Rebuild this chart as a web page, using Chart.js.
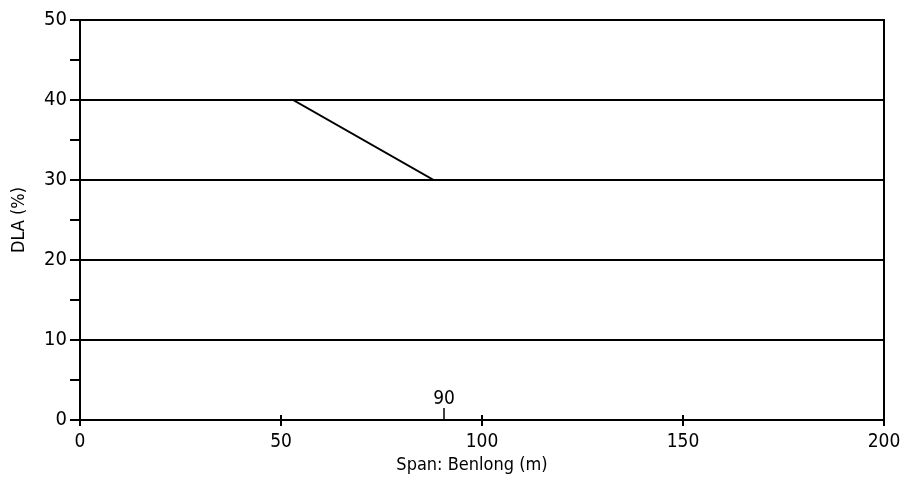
<!DOCTYPE html>
<html>
<head>
<meta charset="utf-8">
<script src="https://cdn.jsdelivr.net/npm/chart.js@4"></script>
<style>
html,body{margin:0;padding:0;background:#fff;}
#wrap{width:900px;height:477px;position:relative;}
</style>
</head>
<body>
<div id="wrap"><canvas id="c" width="900" height="477"></canvas></div>
<script>
// ---- data ----
const spanValues = [0, 53, 88, 200];      // Span: Benlong (m)
const dlaValues  = [40, 40, 30, 30];      // DLA (%)
const xTickValues = [0, 50, 100, 150, 200];
const yTickValues = [0, 10, 20, 30, 40, 50];
const yMinorTickValues = [5, 15, 25, 35, 45];
const markerValues = [90];
const markerLabels = ['90'];
const xTitle = 'Span: Benlong (m)';
const yTitle = 'DLA (%)';

const FONT = "'DejaVu Sans Condensed', 'Liberation Sans Narrow', 'Liberation Sans', sans-serif";

const points = spanValues.map((v, i) => ({x: v, y: dlaValues[i]}));

const extras = {
  id: 'extras',
  afterDatasetsDraw(chart) {
    const ctx = chart.ctx;
    const xs = chart.scales.x, ys = chart.scales.y;
    const base = ys.getPixelForValue(0);
    ctx.save();
    ctx.strokeStyle = '#000';
    ctx.lineWidth = 2;
    xTickValues.forEach(v => {
      if (v === 0 || v === 200) return;
      const px = Math.round(xs.getPixelForValue(v));
      ctx.beginPath();
      ctx.moveTo(px, base);
      ctx.lineTo(px, base - 5);
      ctx.stroke();
    });
    ctx.fillStyle = '#000';
    ctx.font = '19px ' + FONT;
    ctx.textAlign = 'center';
    ctx.textBaseline = 'middle';
    markerValues.forEach((v, i) => {
      const px = Math.round(xs.getPixelForValue(v)) + 2;
      ctx.lineWidth = 1.5;
      ctx.beginPath();
      ctx.moveTo(px, base);
      ctx.lineTo(px, base - 12);
      ctx.stroke();
      ctx.fillText(markerLabels[i], px, base - 21);
    });
    ctx.font = '18px ' + FONT;
    ctx.fillText(xTitle, xs.getPixelForValue(97.5), 465);
    ctx.restore();
  }
};

new Chart(document.getElementById('c'), {
  type: 'line',
  data: {
    datasets: [{
      data: points,
      borderColor: '#000',
      borderWidth: 2,
      pointRadius: 0,
      tension: 0,
      fill: false
    }]
  },
  options: {
    responsive: false,
    animation: false,
    layout: {padding: {top: 20, right: 0, left: 0, bottom: 0}},
    plugins: {legend: {display: false}, tooltip: {enabled: false}},
    scales: {
      x: {
        type: 'linear',
        min: 0, max: 200,
        afterBuildTicks: s => { s.ticks = xTickValues.map(v => ({value: v})); },
        afterFit: s => { s.height = 57; s.paddingRight = 16; s.paddingLeft = 0; },
        ticks: {color: '#000', font: {family: FONT, size: 19}, padding: 5, maxRotation: 0},
        grid: {drawOnChartArea: false, tickLength: 6, tickColor: '#000', lineWidth: 2},
        border: {display: true, color: '#000', width: 2}
      },
      y: {
        min: 0, max: 50,
        afterBuildTicks: s => {
          s.ticks = yTickValues.concat(yMinorTickValues).sort((a, b) => a - b).map(v => ({value: v}));
        },
        afterFit: s => { s.width = 80; },
        ticks: {
          color: '#000', font: {family: FONT, size: 20}, padding: 3,
          callback: v => yTickValues.includes(v) ? String(v) : ''
        },
        grid: {
          drawOnChartArea: true,
          tickLength: 10,
          tickColor: '#000',
          lineWidth: 2,
          color: c => (c.tick && yTickValues.includes(c.tick.value) && c.tick.value > 0) ? '#000' : 'rgba(0,0,0,0)'
        },
        border: {display: true, color: '#000', width: 2},
        title: {display: true, text: yTitle, color: '#000', font: {family: FONT, size: 18}, padding: {top: 9, bottom: 0}}
      },
      y2: {
        position: 'right',
        min: 0, max: 50,
        afterFit: s => { s.width = 8; },
        ticks: {display: false},
        grid: {drawOnChartArea: false, drawTicks: false},
        border: {display: true, color: '#000', width: 2}
      }
    }
  },
  plugins: [extras]
});
</script>
</body>
</html>
